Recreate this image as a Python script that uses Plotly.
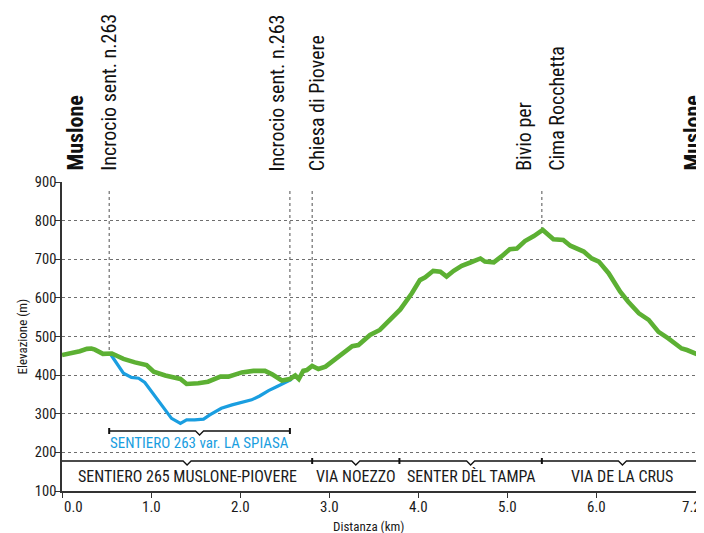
import numpy as np
import plotly.graph_objects as go

# ---------------- data ----------------
km_main = [0.00, 0.10, 0.20, 0.28, 0.33, 0.37, 0.46, 0.56, 0.69, 0.82, 0.95, 1.03, 1.16,
           1.33, 1.40, 1.53, 1.64, 1.78, 1.87, 2.02, 2.15, 2.28, 2.36, 2.47, 2.56, 2.62,
           2.66, 2.71, 2.75, 2.81, 2.88, 2.96, 3.05, 3.14, 3.26, 3.33, 3.46, 3.57, 3.69,
           3.80, 3.93, 4.02, 4.08, 4.17, 4.25, 4.32, 4.40, 4.49, 4.58, 4.70, 4.75, 4.85,
           4.94, 5.03, 5.11, 5.20, 5.30, 5.40, 5.52, 5.63, 5.71, 5.86, 5.95, 6.03, 6.14,
           6.27, 6.36, 6.48, 6.59, 6.70, 6.81, 6.96, 7.02, 7.11, 7.20]
elev_main = [452, 456, 462, 468, 469, 466, 455, 456, 442, 433, 426, 409, 399,
             390, 377, 379, 383, 396, 396, 407, 411, 411, 402, 386, 390, 399,
             390, 411, 413, 424, 416, 422, 439, 455, 475, 478, 504, 517, 543,
             570, 612, 646, 653, 670, 668, 655, 670, 683, 691, 702, 694, 692,
             708, 726, 728, 747, 760, 776, 752, 750, 735, 720, 702, 694, 664,
             616, 590, 560, 543, 512, 495, 469, 465, 455, 448]

km_var = [0.54, 0.61, 0.69, 0.78, 0.86, 0.93, 1.03, 1.14, 1.23, 1.33, 1.40, 1.49, 1.59,
          1.66, 1.79, 1.91, 2.02, 2.13, 2.22, 2.32, 2.41, 2.52, 2.58]
elev_var = [456, 431, 405, 394, 392, 381, 349, 314, 288, 275, 284, 284, 286,
            297, 314, 323, 330, 336, 346, 360, 370, 383, 389]

waypoint_km = [0.0, 0.53, 2.56, 2.81, 5.39, 7.2]
waypoint_names = ["Muslone", "Incrocio sent. n.263", "Incrocio sent. n.263",
                  "Chiesa di Piovere", "Bivio per<br>Cima Rocchetta", "Muslone"]

section_bounds = [0.0, 2.81, 3.79, 5.39, 7.2]
section_names = ["SENTIERO 265 MUSLONE-PIOVERE", "VIA NOEZZO", "SENTER DÈL TAMPA",
                 "VIA DE LA CRUS"]

variant_bounds = [0.53, 2.56]
variant_name = "SENTIERO 263 var. LA SPIASA"

x_tickvals = [0, 1, 2, 3, 4, 5, 6, 7.2]
x_ticktext = ["0.0", "1.0", "2.0", "3.0", "4.0", "5.0", "6.0", "7.2"]
y_tickvals = [100, 200, 300, 400, 500, 600, 700, 800, 900]

# ---------------- style / layout ----------------
FONT = "Roboto Condensed, DejaVu Sans Condensed, sans-serif"
GREEN = "#5cb033"
BLUE = "#1a9ee0"
GRID = "#6e6e6e"
INK = "#1a1a1a"

XR = [0, 7.2]
YR = [100, 900]
OFF = 8                      # page body margin of the html page
PW_, PH_ = 704, 533          # browser window
PL, PT, PR, PB = 62, 182, 703, 491   # plot area in page pixels
W, H = PW_ - OFF, PH_ - OFF
ML, MT = PL - OFF, PT - OFF
MR, MB = PW_ - PR, PH_ - PB
pw = PR - PL
ph = PB - PT
kpp = (XR[1] - XR[0]) / pw      # km per pixel
mpp = (YR[1] - YR[0]) / ph      # m per pixel


def yv_at(page_y):
    return YR[1] - (page_y - PT) * mpp


fig = go.Figure()

# vertical dotted markers at intermediate waypoints
top_val = yv_at(191)
for k in waypoint_km[1:-1]:
    bottom = float(np.interp(k, km_main, elev_main))
    fig.add_trace(go.Scatter(x=[k, k], y=[top_val, bottom], mode="lines",
                             line=dict(color="#505050", width=1, dash="dot"),
                             hoverinfo="skip", showlegend=False))

# variant (blue) and main (green) profiles
fig.add_trace(go.Scatter(x=km_var, y=elev_var, mode="lines",
                         line=dict(color=BLUE, width=3.2), showlegend=False))
fig.add_trace(go.Scatter(x=km_main, y=elev_main, mode="lines",
                         line=dict(color=GREEN, width=4.6), showlegend=False))


def brace(a, b, yv, color, end_ticks):
    """horizontal bracket with a small notch at its middle"""
    mid = (a + b) / 2
    nx = 4 * kpp
    ny = 4 * mpp
    xs = [a, mid - nx, mid, mid + nx, b]
    ys = [yv, yv, yv - ny, yv, yv]
    fig.add_trace(go.Scatter(x=xs, y=ys, mode="lines", line=dict(color=color, width=1.3),
                             hoverinfo="skip", showlegend=False))
    for t in end_ticks:
        fig.add_trace(go.Scatter(x=[t, t], y=[yv - 3 * mpp, yv + 3 * mpp], mode="lines",
                                 line=dict(color=color, width=2),
                                 hoverinfo="skip", showlegend=False))


# section band
band_y = yv_at(461)
for i in range(len(section_names)):
    brace(section_bounds[i], section_bounds[i + 1], band_y, "#111111",
          [section_bounds[i + 1]])

# variant bracket
brace(variant_bounds[0], variant_bounds[1], yv_at(431), "#111111",
      [variant_bounds[0], variant_bounds[1]])

annotations = []
for i, name in enumerate(section_names):
    annotations.append(dict(x=(section_bounds[i] + section_bounds[i + 1]) / 2, y=yv_at(476),
                            xref="x", yref="y", text=name, showarrow=False,
                            xanchor="center",
                            font=dict(family=FONT, size=16, color=INK)))
annotations.append(dict(x=(variant_bounds[0] + variant_bounds[1]) / 2, y=yv_at(443),
                        xref="x", yref="y", text=variant_name, showarrow=False,
                        xanchor="center",
                        font=dict(family=FONT, size=15, color=BLUE)))

# waypoint labels (rotated); pixel shifts of the label block relative to its waypoint
wp_shift = [13, -1, -13, 5, -2, -11]
wp_bold = [True, False, False, False, False, True]
LINE_GAP = 33
for k, name, sh, bold in zip(waypoint_km, waypoint_names, wp_shift, wp_bold):
    parts = name.split("<br>")
    n = len(parts)
    for j, part in enumerate(parts):
        annotations.append(dict(x=k, y=1 + (PT - 173) / ph, xref="x", yref="paper",
                                text=("<b>%s</b>" % part) if bold else part,
                                textangle=-90, showarrow=False, xanchor="center",
                                yanchor="bottom",
                                xshift=sh + (j - (n - 1) / 2) * LINE_GAP,
                                font=dict(family=FONT, size=22 if bold else 20,
                                          color="#111111")))

# x tick labels
for v, t in zip(x_tickvals, x_ticktext):
    anc = "left" if v == XR[0] else ("right" if v == XR[1] else "center")
    annotations.append(dict(x=v, y=0, xref="x", yref="paper", text=t, showarrow=False,
                            xanchor=anc, yanchor="top", yshift=-5,
                            font=dict(family=FONT, size=15, color=INK)))

# axis titles
annotations.append(dict(x=(22 - PL) / pw, y=0.5, xref="paper", yref="paper",
                        text="Elevazione (m)", textangle=-90, showarrow=False,
                        xanchor="center", yanchor="middle",
                        font=dict(family=FONT, size=13, color=INK)))
annotations.append(dict(x=(369 - PL) / pw, y=-(526 - PB) / ph, xref="paper",
                        yref="paper", text="Distanza (km)", showarrow=False,
                        xanchor="center", yanchor="middle",
                        font=dict(family=FONT, size=13, color=INK)))

fig.update_layout(
    width=W, height=H,
    margin=dict(l=ML, r=MR, t=MT, b=MB, pad=0, autoexpand=False),
    paper_bgcolor="white", plot_bgcolor="white",
    showlegend=False,
    annotations=annotations,
    xaxis=dict(range=XR, tickvals=x_tickvals, showticklabels=False, ticks="outside",
               ticklen=5, tickcolor="#333333", showgrid=False, zeroline=False,
               showline=True, linecolor="#333333", linewidth=1.5, automargin=False),
    yaxis=dict(range=YR, tickvals=y_tickvals, ticks="outside", ticklen=5,
               tickcolor="#333333", showline=True, linecolor="#333333", linewidth=1.5,
               showgrid=True, gridcolor=GRID, griddash="dot", gridwidth=1,
               zeroline=False, automargin=False, ticklabelstandoff=-4,
               tickfont=dict(family=FONT, size=14.5, color=INK)),
)

fig.write_html("out.html")
